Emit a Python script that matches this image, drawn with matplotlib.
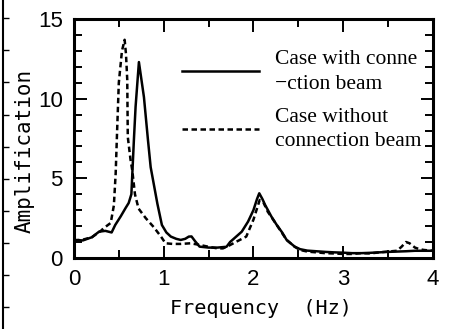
import matplotlib.pyplot as plt
from matplotlib import font_manager


# response spectra
freq_with = [0.0, 0.1, 0.2, 0.28, 0.35, 0.42, 0.46, 0.52, 0.576, 0.61, 0.64,
             0.668, 0.687, 0.724, 0.78, 0.825, 0.855, 0.93, 0.98, 1.03, 1.08,
             1.14, 1.19, 1.24, 1.28, 1.31, 1.35, 1.4, 1.5, 1.6, 1.7, 1.74,
             1.8, 1.87, 1.94, 2.0, 2.04, 2.065, 2.1, 2.13, 2.2, 2.26, 2.32,
             2.37, 2.46, 2.52, 2.6, 2.7, 2.8, 2.9, 3.0, 3.1, 3.2, 3.3, 3.4,
             3.5, 3.6, 3.7, 3.8, 3.9, 4.0]
amp_with = [1.13, 1.1, 1.3, 1.65, 1.7, 1.6, 2.07, 2.6, 3.14, 3.45, 4.0,
            7.4, 9.5, 12.3, 10.1, 7.4, 5.7, 3.4, 2.07, 1.6, 1.34,
            1.2, 1.13, 1.2, 1.34, 1.35, 1.05, 0.71, 0.65, 0.65, 0.7, 1.0,
            1.3, 1.65, 2.28, 3.0, 3.7, 4.06, 3.7, 3.33, 2.6, 2.07, 1.6,
            1.13, 0.71, 0.55, 0.46, 0.42, 0.38, 0.35, 0.33, 0.3, 0.3, 0.32, 0.35,
            0.38, 0.4, 0.42, 0.45, 0.45, 0.45]

freq_without = [0.0, 0.1, 0.2, 0.3, 0.33, 0.41, 0.445, 0.465, 0.48, 0.5,
                0.535, 0.565, 0.58, 0.594, 0.6, 0.63, 0.65, 0.68, 0.72, 0.8,
                0.89, 0.97, 1.02, 1.1, 1.19, 1.3, 1.4, 1.5, 1.6, 1.66, 1.72,
                1.81, 1.92, 2.0, 2.07, 2.11, 2.16, 2.26, 2.37, 2.46, 2.52,
                2.6, 2.7, 2.8, 2.9, 3.0, 3.1, 3.2, 3.3, 3.4, 3.5, 3.6, 3.65,
                3.7, 3.74, 3.8, 3.85, 3.9, 4.0]
amp_without = [1.1, 1.15, 1.3, 1.7, 1.86, 2.2, 3.3, 5.3, 7.8, 11.0,
               13.0, 13.7, 12.8, 11.2, 7.6, 6.2, 5.5, 4.0, 3.1, 2.5,
               1.93, 1.34, 0.92, 0.88, 0.88, 0.92, 0.82, 0.7, 0.6, 0.6, 0.75,
               1.02, 1.34, 2.4, 3.64, 3.5, 2.9, 2.07, 1.13, 0.7, 0.5,
               0.4, 0.35, 0.3, 0.28, 0.25, 0.25, 0.3, 0.28, 0.35, 0.4, 0.45, 0.7,
               1.0, 0.92, 0.65, 0.55, 0.5, 0.45]

label_with = "Case with conne\n\u2212ction beam"
label_without = "Case without\nconnection beam"

names = {f.name for f in font_manager.fontManager.ttflist}
tick_font = "Liberation Sans Narrow" if "Liberation Sans Narrow" in names else "Liberation Sans"
tick_size = 18 if tick_font == "Liberation Sans Narrow" else 16

fig = plt.figure(figsize=(4.65, 3.29), dpi=100)
ax = fig.add_axes([0.159, 0.216, 0.772, 0.726])

ax.plot(freq_with, amp_with, color="black", lw=1.8, label=label_with)
ax.plot(freq_without, amp_without, color="black", lw=1.8, ls=(0, (2.2, 1.4)),
        label=label_without)

ax.set_xlim(0, 4)
ax.set_ylim(0, 15)
ax.set_xticks([0, 1, 2, 3, 4])
ax.set_xticks([0.5, 1.5, 2.5, 3.5], minor=True)
ax.set_yticks([0, 5, 10, 15])
ax.set_yticks([v for v in range(16) if v % 5], minor=True)
ax.tick_params(which="both", direction="in", top=True, right=True, width=1.4)
ax.tick_params(which="major", length=9, pad=8)
ax.tick_params(which="minor", length=6)
for s in ax.spines.values():
    s.set_linewidth(2.2)

for t in ax.get_xticklabels() + ax.get_yticklabels():
    t.set_fontfamily(tick_font)
    t.set_fontsize(tick_size)

ax.set_xlabel("Frequency  (Hz)", fontfamily="DejaVu Sans Mono", fontsize=14.5)
ax.xaxis.set_label_coords(0.52, -0.17)
ax.xaxis.label.set_va("top")
ax.set_ylabel("Amplification", fontfamily="DejaVu Sans Mono", fontsize=15)
ax.yaxis.set_label_coords(-0.11, 0.45)

leg = ax.legend(loc="upper left", bbox_to_anchor=(0.30, 0.87), frameon=False,
                prop={"family": "Liberation Serif", "size": 15.5},
                handlelength=3.6, handletextpad=0.75, labelspacing=0.65,
                borderaxespad=0, borderpad=0)
for t in leg.get_texts():
    t.set_linespacing(1.4)

# edge of the neighbouring figure in the scan
strip = fig.add_axes([0.006, 0.0, 0.001, 1.0])
strip.set_ylim(0, 329)
strip.set_xticks([])
strip.set_yticks([329 - y for y in (18, 50, 82, 115, 147, 179, 211, 243, 275, 307)])
strip.set_yticklabels([])
strip.tick_params(axis="y", direction="out", left=False, right=True, length=4, width=1)
for side in ("top", "bottom", "right"):
    strip.spines[side].set_visible(False)
strip.spines["left"].set_linewidth(1.5)

fig.savefig("out.png", dpi=100)
